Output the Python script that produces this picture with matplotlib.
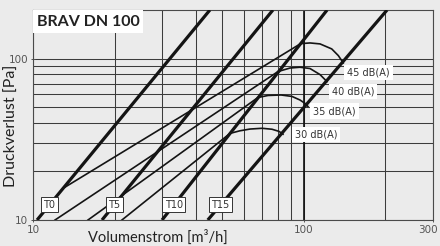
import matplotlib
matplotlib.use("Agg")
import matplotlib.pyplot as plt
import matplotlib.transforms as mtrans
import numpy as np
from matplotlib.ticker import FixedLocator, NullFormatter
from matplotlib.patches import Rectangle

# ---------------- data ----------------
throttle_labels = ["T0", "T5", "T10", "T15"]
throttle_flow_at_10pa = [10.35, 17.98, 29.96, 44.2]    # m3/h at 10 Pa
throttle_flow_at_200pa = [45.0, 76.9, 121.9, 203.0]    # m3/h at 200 Pa
throttle_pressure_ends = [10, 200]
throttle_label_pressure = 12.4

db_labels = ["30 dB(A)", "35 dB(A)", "40 dB(A)", "45 dB(A)"]
db30_flow = [21.3, 53.4, 58.1, 63.3, 70.1, 76.3, 81.0, 83.8]
db30_pressure = [10.0, 34.4, 35.7, 36.6, 37.0, 36.5, 35.4, 34.0]
db35_flow = [15.96, 67.7, 73.8, 82.4, 90.4, 96.8, 101.0, 103.6]
db35_pressure = [10.0, 57.4, 59.1, 59.5, 58.3, 55.4, 52.8, 50.5]
db40_flow = [12.06, 80.3, 88.9, 96.8, 105.4, 114.8, 121.8]
db40_pressure = [10.0, 83.1, 87.4, 88.4, 86.8, 79.6, 72.0]
db45_flow = [13.13, 97.4, 105.4, 114.8, 126.8, 134.1, 139.9]
db45_pressure = [15.98, 123.8, 125.0, 123.3, 114.8, 104.4, 94.0]
db_label_flow = [92.8, 108.2, 127.0, 144.6]
db_label_pressure = [33.9, 47.3, 62.6, 82.0]

x_major = [10, 100, 300]
x_minor = [20, 30, 40, 50, 60, 70, 80, 90, 200]
y_major = [10, 100]
y_minor = [20, 30, 40, 50, 60, 70, 80, 90]

# ---------------- figure ----------------
W, H = 440, 246
bg = "#ebebeb"
fig = plt.figure(figsize=(W / 100, H / 100), dpi=100)
fig.patch.set_facecolor(bg)
ax = fig.add_axes([33 / W, 26 / H, 400 / W, 210 / H])
ax.set_facecolor(bg)
ax.set_xscale("log")
ax.set_yscale("log")
ax.set_xlim(10, 300)
ax.set_ylim(10, 200)

narrow = ["Liberation Sans Narrow", "DejaVu Sans"]
main_font = ["Lato", "DejaVu Sans"]

ax.xaxis.set_major_locator(FixedLocator(x_major))
ax.xaxis.set_minor_locator(FixedLocator(x_minor))
ax.yaxis.set_major_locator(FixedLocator(y_major))
ax.yaxis.set_minor_locator(FixedLocator(y_minor))
ax.set_xticklabels([str(v) for v in x_major])
ax.set_yticklabels([str(v) for v in y_major])
ax.xaxis.set_minor_formatter(NullFormatter())
ax.yaxis.set_minor_formatter(NullFormatter())
ax.tick_params(which="major", labelsize=7.5, labelcolor="#555555", color="#555555",
               length=3, width=0.7, direction="inout", pad=2)
ax.tick_params(which="minor", length=0)
for lab in ax.get_xticklabels() + ax.get_yticklabels():
    lab.set_family(narrow)
# keep the last x label inside the figure
last = ax.get_xticklabels()[-1]
last.set_horizontalalignment("right")
last.set_transform(last.get_transform() + mtrans.ScaledTranslation(5 / 100, 0, fig.dpi_scale_trans))

ax.grid(True, which="both", color="#3c3c3c", lw=0.75)
ax.set_axisbelow(True)
for s in ax.spines.values():
    s.set_color("#4a4a4a")
    s.set_linewidth(0.8)
ax.axvline(100, color="#111111", lw=1.2, zorder=1)

# throttle lines (thick)
for lab, v10, v200 in zip(throttle_labels, throttle_flow_at_10pa, throttle_flow_at_200pa):
    ax.plot([v10, v200], throttle_pressure_ends, color="#141414", lw=2.3,
            solid_capstyle="butt", zorder=3)
    lv = np.interp(np.log10(throttle_label_pressure), np.log10(throttle_pressure_ends),
                   np.log10([v10, v200]))
    ax.text(10 ** lv, throttle_label_pressure, lab, ha="center", va="center",
            fontsize=7, family=narrow, color="#333333", zorder=6,
            bbox=dict(boxstyle="square,pad=0.25", fc="white", ec="#333333", lw=0.7))

# sound level lines (thin)
for fl, pr in [(db30_flow, db30_pressure), (db35_flow, db35_pressure),
               (db40_flow, db40_pressure), (db45_flow, db45_pressure)]:
    ax.plot(fl, pr, color="#141414", lw=1.2, zorder=2, solid_joinstyle="round")

for lab, fv, pv in zip(db_labels, db_label_flow, db_label_pressure):
    ax.text(fv, pv, lab, ha="left", va="center", fontsize=7, family=narrow,
            color="#333333", zorder=6,
            bbox=dict(boxstyle="square,pad=0.3", fc="white", ec="none"))

# title box
ax.add_patch(Rectangle((0, 1 - 23 / 210), 110 / 400, 23 / 210, transform=ax.transAxes,
                       fc="white", ec="none", zorder=5))
ax.text(4 / 400, 1 - 11.5 / 210, "BRAV DN 100", transform=ax.transAxes, ha="left",
        va="center", fontsize=11.5, family=main_font, weight="bold",
        color="#222222", zorder=6)

# axis labels
fig.text(88 / W, 1 - 237 / H, "Volumenstrom [m\u00b3/h]", ha="left", va="center",
         fontsize=10.5, family=main_font, color="#222222")
fig.text(12 / W, 1 - 126 / H, "Druckverlust [Pa]", ha="center", va="center",
         rotation=90, fontsize=11.5, family=main_font, color="#222222")

fig.savefig("out.png", dpi=100, facecolor=bg)
